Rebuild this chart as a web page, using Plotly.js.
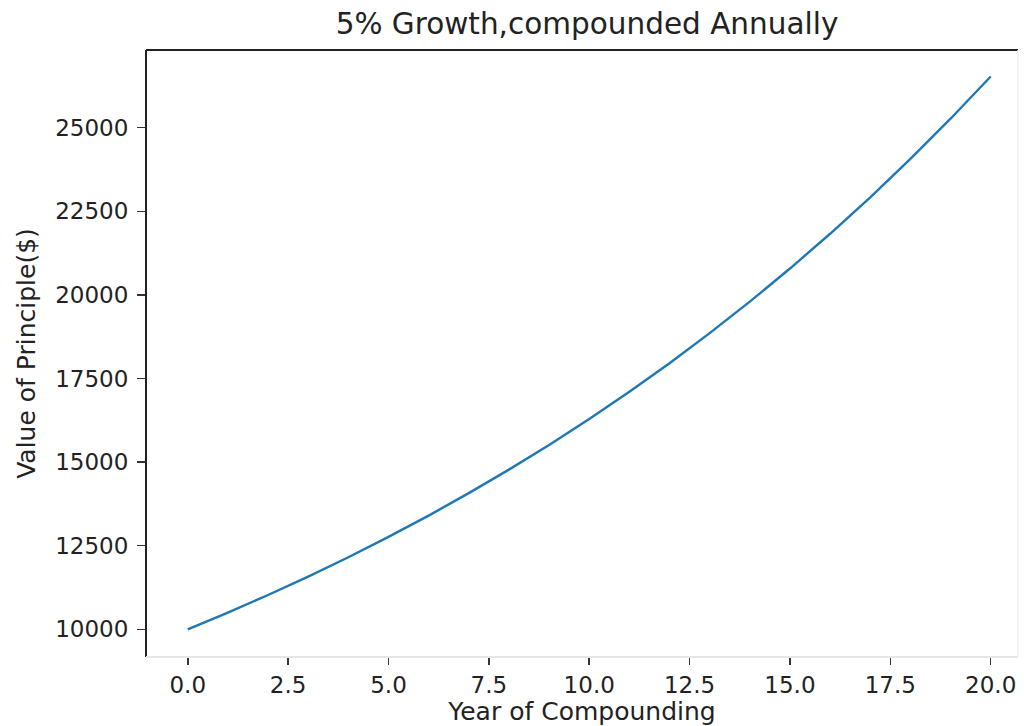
<!DOCTYPE html>
<html>
<head>
<meta charset="utf-8">
<script src="https://cdn.plot.ly/plotly-3.0.1.min.js"></script>
<style>html,body{margin:0;padding:0;background:#fff;}#chart{width:1024px;height:726px;}</style>
</head>
<body>
<div id="chart"></div>
<script>
const years = [0,1,2,3,4,5,6,7,8,9,10,11,12,13,14,15,16,17,18,19,20];
const principal = [10000,10500,11025,11576,12155,12763,13401,14071,14775,15513,16289,17103,17959,18856,19799,20789,21829,22920,24066,25270,26533];
const titleText = "5% Growth,compounded Annually";
const xTitle = "Year of Compounding";
const yTitle = "Value of Principle($)";

const font = "DejaVu Sans, sans-serif";
const trace = {
  x: years, y: principal, type: 'scatter', mode: 'lines',
  line: {color: '#1f77b4', width: 2.4}, hoverinfo: 'skip'
};
const layout = {
  width: 1024, height: 726,
  margin: {l: 146, r: 6, t: 50, b: 69, pad: 0},
  paper_bgcolor: '#fff', plot_bgcolor: '#fff',
  showlegend: false,
  font: {family: font, color: '#222', size: 23},
  title: {text: titleText, font: {family: font, size: 29.5, color: '#222'},
          x: 587/1024, xref: 'container', xanchor: 'center', y: 1 - 24/726, yref: 'container', yanchor: 'middle'},
  xaxis: {
    range: [-1.04, 20.68], tick0: 0, dtick: 2.5, tickformat: '.1f',
    showgrid: false, zeroline: false, showline: false,
    ticks: 'outside', ticklen: 7, tickwidth: 1.5, tickcolor: '#333',
    tickfont: {family: font, size: 23, color: '#222'},
    title: {text: xTitle, font: {family: font, size: 25, color: '#222'}, standoff: 4}
  },
  yaxis: {
    range: [9171, 27325], tick0: 0, dtick: 2500, tickformat: 'd',
    showgrid: false, zeroline: false, showline: false,
    ticks: 'outside', ticklen: 8, tickwidth: 1.5, tickcolor: '#333',
    ticklabelstandoff: 4,
    tickfont: {family: font, size: 23, color: '#222'},
    title: {text: yTitle, font: {family: font, size: 25, color: '#222'}, standoff: 12}
  },
  shapes: [
    {type: 'line', xref: 'paper', yref: 'paper', x0: 0, x1: 1, y0: 1, y1: 1, line: {color: '#222', width: 2}},
    {type: 'line', xref: 'paper', yref: 'paper', x0: 0, x1: 0, y0: 0, y1: 1, line: {color: '#222', width: 2}},
    {type: 'line', xref: 'paper', yref: 'paper', x0: 0, x1: 1, y0: 0, y1: 0, line: {color: '#e6e6e6', width: 2}},
    {type: 'line', xref: 'paper', yref: 'paper', x0: 1, x1: 1, y0: 0, y1: 1, line: {color: '#f0f0f0', width: 1.5}}
  ]
};
Plotly.newPlot('chart', [trace], layout, {displayModeBar: false, staticPlot: true});
</script>
</body>
</html>
